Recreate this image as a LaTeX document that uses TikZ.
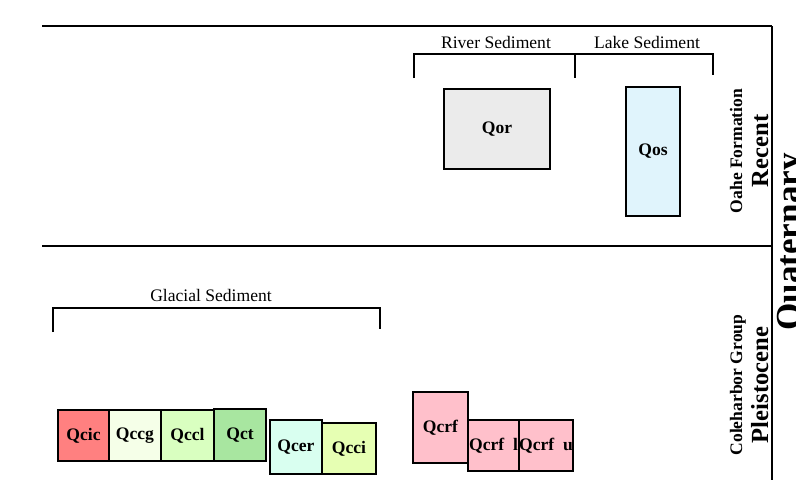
\documentclass[tikz,border=0pt]{standalone}
\usepackage{fontspec}
\setmainfont{Liberation Serif}
\usetikzlibrary{positioning}
\tikzset{
  rule/.style={line width=1.1pt},
  brace/.style={line width=1.2pt},
  unit/.style 2 args={% map unit, width x height in px
    rectangle, draw, line width=1.3pt, inner sep=0pt,
    minimum width=#1*0.02cm, minimum height=#2*0.02cm,
    font=\bfseries\fontsize{10}{12}\selectfont},
  sedlabel/.style={font=\fontsize{10}{12}\selectfont, inner sep=0pt},
  formation/.style={rotate=90, anchor=base, inner sep=0pt,
    font=\bfseries\fontsize{10}{12}\selectfont},
  epoch/.style={rotate=90, anchor=base, inner sep=0pt,
    font=\bfseries\fontsize{14}{16}\selectfont},
  period/.style={rotate=90, anchor=base, inner sep=0pt,
    font=\bfseries\fontsize{20}{24}\selectfont},
}
\definecolor{qcicfill}{HTML}{FF8080}
\definecolor{qccgfill}{HTML}{F5FFE8}
\definecolor{qcclfill}{HTML}{D9FFC0}
\definecolor{qctfill}{HTML}{A8E6A0}
\definecolor{qcerfill}{HTML}{D9FFF0}
\definecolor{qccifill}{HTML}{E6FFB3}
\definecolor{qcrffill}{HTML}{FFC0CB}
\definecolor{qorfill}{HTML}{EBEBEB}
\definecolor{qosfill}{HTML}{E0F4FC}

\begin{document}
\begin{tikzpicture}[x=0.02cm, y=-0.02cm]
  \useasboundingbox (0,0) rectangle (796,480);
  \clip (0,0) rectangle (796,480);

  % ----- frame --------------------------------------------------------------
  \draw[rule, line width=1.5pt] (42,26) -- (772,26);
  \draw[rule] (772,26) -- (772,480);
  \draw[rule] (42,246) -- (772,246);

  % ----- Recent: river and lake sediment ------------------------------------
  \draw[brace] (414,78) -- (414,54) -- (575,54) -- (575,78);
  \draw[brace] (575,54) -- (713,54) -- (713,75);
  \node[sedlabel] (river) at (496,42) {River Sediment};
  \node[sedlabel] (lake)  at (647,42) {Lake Sediment};

  \node[unit={106}{80},  fill=qorfill] (qor) at (497,129)   {Qor};
  \node[unit={54}{129},  fill=qosfill] (qos) at (653,151.5) {Qos};

  % ----- Pleistocene: glacial sediment --------------------------------------
  \draw[brace] (53,332) -- (53,308) -- (380,308) -- (380,329);
  \node[sedlabel] (glacial) at (211,295) {Glacial Sediment};

  \node[unit={51}{51}, fill=qcicfill] (qcic) at (83.5,435.5)  {Qcic};
  \node[unit={52}{51}, fill=qccgfill] (qccg) at (135,435.5)   {Qccg};
  \node[unit={53}{51}, fill=qcclfill] (qccl) at (187.5,435.5) {Qccl};
  \node[unit={52}{52}, fill=qctfill]  (qct)  at (240,435)     {Qct};
  \node[unit={52}{54}, fill=qcerfill] (qcer) at (296,447)     {Qcer};
  \node[unit={54}{51}, fill=qccifill] (qcci) at (349,448.5)   {Qcci};

  \node[unit={55}{71}, fill=qcrffill] (qcrf)  at (440.5,427.5) {Qcrf};
  \node[unit={51}{51}, fill=qcrffill] (qcrfl) at (493.5,445.5) {Qcrf\ \ l};
  \node[unit={54}{51}, fill=qcrffill] (qcrfu) at (546,445.5)   {Qcrf\ \ u};

  % ----- time scale ---------------------------------------------------------
  \node[formation] (oahe)   at (742,151) {Oahe Formation};
  \node[epoch]     (recent) at (768,151) {Recent};
  \node[formation] (coleharbor)  at (742,385) {Coleharbor Group};
  \node[epoch]     (pleistocene) at (768,385) {Pleistocene};
  \node[period]    (quaternary)  at (800,242) {Quaternary};

\end{tikzpicture}
\end{document}
